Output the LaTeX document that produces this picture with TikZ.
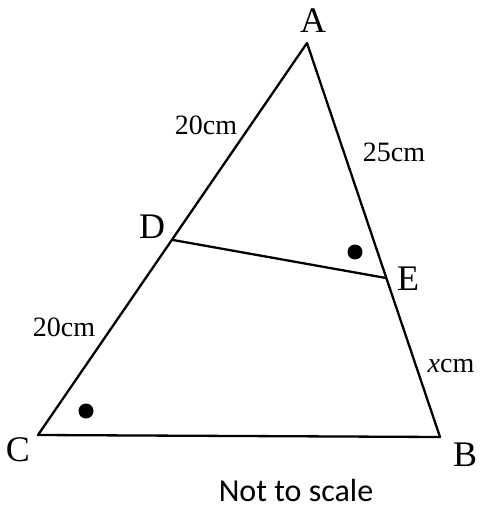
\documentclass[tikz,border=0pt]{standalone}
\usepackage{fontspec}
\setmainfont{Liberation Serif}
\newfontfamily\notefont{Carlito}
\begin{document}
\begin{tikzpicture}[x=1pt,y=-1pt,
  edge/.style={line width=2.3pt,line join=round},
  vlabel/.style={font=\fontsize{36}{36}\selectfont,inner sep=0pt},
  slabel/.style={font=\fontsize{28}{28}\selectfont,inner sep=0pt},
  dotmark/.style={fill=black,circle,inner sep=0pt,minimum size=15pt}]
\useasboundingbox (0,0) rectangle (480,510);
\coordinate (A) at (307,43);
\coordinate (C) at (38,435);
\coordinate (B) at (440,437);
\coordinate (D) at (173,240);
\coordinate (E) at (386,278);
\draw[edge] (A) -- (C) -- (B) -- cycle;
\draw[edge] (D) -- (E);
\node[vlabel] (lA) at (313,21) {A};
\node[vlabel] (lD) at (152,227) {D};
\node[vlabel] (lE) at (408,279) {E};
\node[vlabel] (lC) at (18,450) {C};
\node[vlabel] (lB) at (465,455) {B};
\node[slabel] (s1) at (206,125) {20cm};
\node[slabel] (s2) at (394,152) {25cm};
\node[slabel] (s3) at (64,327) {20cm};
\node[slabel] (s4) at (451,366) {\textit{x}cm};
\node[dotmark] (d1) at (355,252) {};
\node[dotmark] (d2) at (86,411) {};
\node[font=\notefont\fontsize{32}{32}\selectfont,inner sep=0pt] (note) at (296,491) {Not to scale};
\end{tikzpicture}
\end{document}
